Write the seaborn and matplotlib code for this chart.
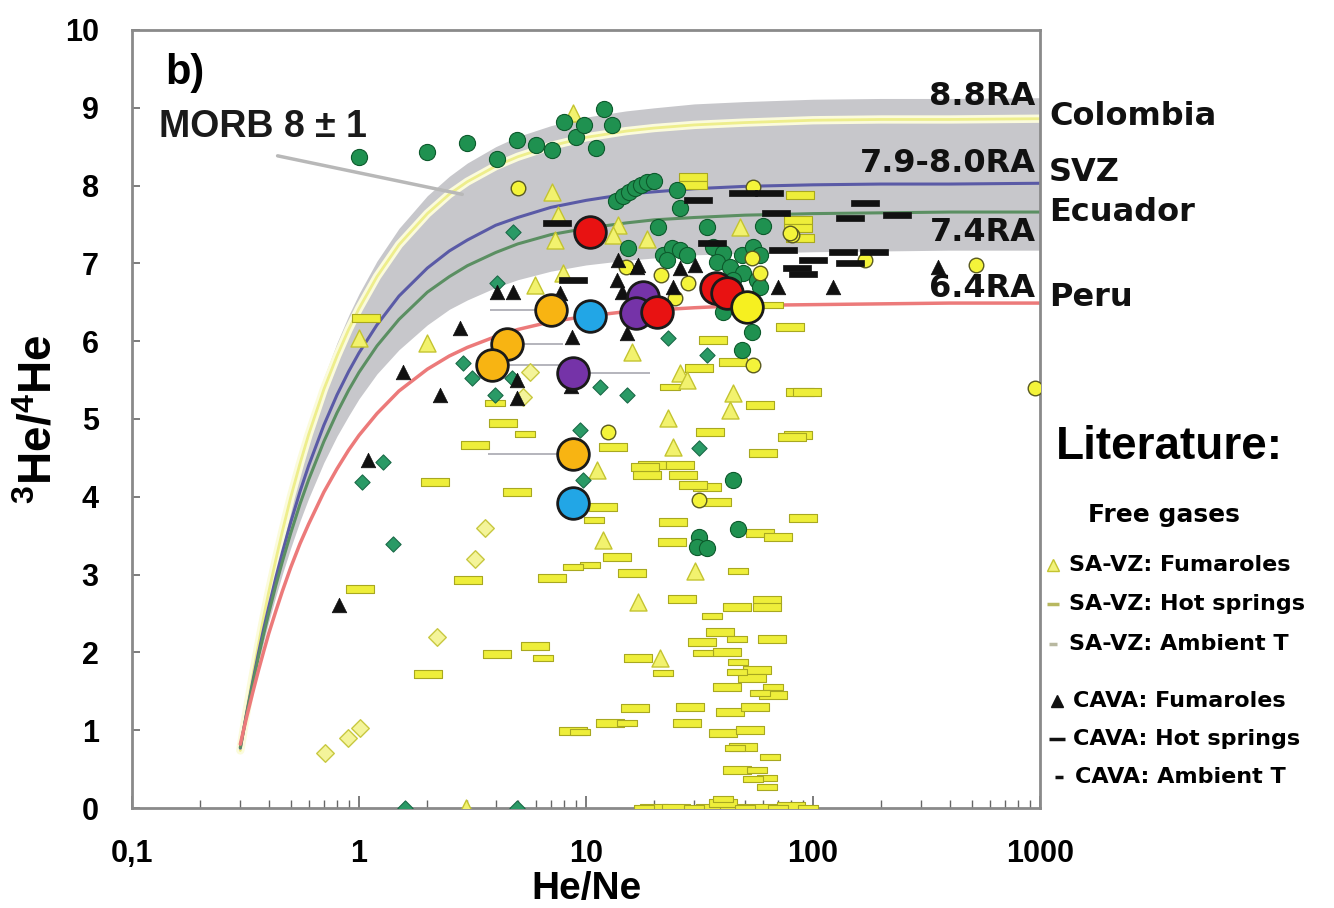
import numpy as np
import matplotlib
matplotlib.use('Agg')
import matplotlib.pyplot as plt
from matplotlib.lines import Line2D
from matplotlib.ticker import LogLocator, NullFormatter
import seaborn as sns

sns.set_theme(style='white')
plt.rcParams['font.family'] = ['Liberation Sans', 'DejaVu Sans']
plt.rcParams['mathtext.fontset'] = 'custom'
plt.rcParams['mathtext.rm'] = 'Liberation Sans:bold'
plt.rcParams['mathtext.bf'] = 'Liberation Sans:bold'
plt.rcParams['mathtext.it'] = 'Liberation Sans:bold'
plt.rcParams['text.color'] = 'black'
plt.rcParams['axes.labelcolor'] = 'black'
plt.rcParams['xtick.color'] = 'black'
plt.rcParams['ytick.color'] = 'black'

# ---- mixing curves ----
curve_x = [0.3, 0.32, 0.34, 0.36, 0.38, 0.4, 0.43, 0.46, 0.5, 0.55, 0.6, 0.7, 0.8, 0.9, 1, 1.2,
           1.5, 2, 2.5, 3, 4, 5, 7, 10, 15, 20, 30, 50, 100, 200, 400, 1000]
colombia = [0.74, 1.25, 1.69, 2.09, 2.45, 2.77, 3.19, 3.56, 3.99, 4.43, 4.80, 5.38, 5.81, 6.15, 6.42, 6.83,
            7.24, 7.64, 7.89, 8.05, 8.25, 8.37, 8.51, 8.62, 8.70, 8.74, 8.78, 8.81, 8.84, 8.85, 8.85, 8.86]
svz = [0.77, 1.22, 1.62, 1.98, 2.30, 2.58, 2.96, 3.29, 3.67, 4.07, 4.40, 4.92, 5.31, 5.61, 5.85, 6.21,
       6.58, 6.94, 7.16, 7.30, 7.49, 7.59, 7.72, 7.81, 7.89, 7.92, 7.96, 7.99, 8.01, 8.02, 8.02, 8.03]
ecuador = [0.78, 1.21, 1.59, 1.93, 2.23, 2.50, 2.86, 3.17, 3.53, 3.91, 4.22, 4.71, 5.08, 5.37, 5.60, 5.94,
           6.28, 6.63, 6.83, 6.97, 7.14, 7.25, 7.37, 7.45, 7.52, 7.56, 7.59, 7.62, 7.64, 7.65, 7.66, 7.66]
peru = [0.82, 1.17, 1.48, 1.76, 2.01, 2.24, 2.53, 2.79, 3.09, 3.40, 3.65, 4.06, 4.36, 4.60, 4.79, 5.07,
        5.36, 5.64, 5.81, 5.92, 6.06, 6.15, 6.25, 6.32, 6.38, 6.40, 6.43, 6.46, 6.47, 6.48, 6.49, 6.49]
morb_high = [0.73, 1.25, 1.72, 2.13, 2.50, 2.83, 3.27, 3.65, 4.09, 4.55, 4.93, 5.53, 5.98, 6.33, 6.61, 7.03,
             7.45, 7.87, 8.12, 8.29, 8.50, 8.63, 8.77, 8.88, 8.96, 9.00, 9.05, 9.08, 9.11, 9.12, 9.12, 9.13]
morb_low = [0.79, 1.19, 1.54, 1.86, 2.14, 2.39, 2.72, 3.01, 3.34, 3.69, 3.98, 4.44, 4.78, 5.04, 5.26, 5.58,
            5.89, 6.21, 6.41, 6.53, 6.69, 6.79, 6.90, 6.98, 7.04, 7.07, 7.11, 7.13, 7.15, 7.16, 7.17, 7.17]

# ---- literature data ----
green_circ_x = [1.0, 2.0, 3.0, 4.05, 4.97, 6.0, 7.1, 8.0, 9.0, 9.8, 11.1, 12.0, 13.0,
                13.5, 14.5, 15.5, 16.5, 17.5, 18.5, 20.0, 25.1, 25.9, 20.7, 34.1, 60.0, 15.3,
                21.8, 23.9, 25.9, 27.8, 22.7, 36.3, 40.1, 37.7, 42.9, 48.5, 54.5, 58.3, 49.0, 56.5, 44.3, 58.3, 40.1,
                53.6, 48.5, 44.3, 46.5, 31.6, 30.9, 34.2]
green_circ_y = [8.37, 8.43, 8.55, 8.34, 8.59, 8.52, 8.46, 8.82, 8.62, 8.78, 8.48, 8.98, 8.78,
                7.80, 7.86, 7.92, 7.97, 8.01, 8.04, 8.06, 7.94, 7.71, 7.47, 7.47, 7.48, 7.20,
                7.11, 7.20, 7.17, 7.11, 7.04, 7.21, 7.13, 7.02, 6.95, 7.11, 7.21, 7.11, 6.88, 6.79, 6.79, 6.70, 6.38,
                6.12, 5.89, 4.22, 3.59, 3.48, 3.35, 3.34]

green_diam_x = [4.77, 4.05, 2.87, 3.15, 3.97, 4.72, 1.28, 1.03, 1.41, 11.5, 15.1, 34.1, 31.6, 22.9, 9.4, 9.7, 1.6, 4.97]
green_diam_y = [7.40, 6.75, 5.72, 5.53, 5.31, 5.53, 4.45, 4.19, 3.39, 5.41, 5.31, 5.82, 4.63, 6.04, 4.86, 4.22, 0.0, 0.0]

savz_fum_x = [8.8, 7.1, 7.55, 7.3, 7.9, 5.96, 1.0, 2.0, 13.8, 13.1, 18.5, 47.6, 15.9, 25.9, 27.8, 44.3,
              42.9, 22.9, 24.2, 11.2, 11.9, 30.1, 16.9, 21.1, 2.97]
savz_fum_y = [8.93, 7.92, 7.62, 7.30, 6.88, 6.72, 6.04, 5.98, 7.49, 7.36, 7.32, 7.47, 5.86, 5.59, 5.50, 5.33,
              5.12, 5.01, 4.64, 4.34, 3.44, 3.04, 2.65, 1.93, 0.0]

savz_hs_x = [1.07, 1.01, 3.02, 7.1, 2.01, 4.05, 5.96, 8.75, 4.31, 3.24, 2.16, 4.97, 79, 36.3, 31.6, 44.3,
             87.8, 58.3, 35, 86, 13.1, 60, 19.5, 25.9, 18.5, 26.7, 34.1, 37.7, 11.9, 24.2, 90.6, 58.3,
             23.9, 69.8, 13.7, 15.9, 26.4, 62.7, 62.7, 46.4, 66.3, 32.4, 38.9, 41.7, 56.5, 16.9, 53.6,
             41.7, 66.6, 16.4, 28.7, 42.9, 55.5, 12.7, 27.8, 40.1, 52.7, 49.1, 46.4, 29.5, 29.5, 87.8,
             86, 86, 87.8, 94, 81, 18.2, 29.5, 20, 25, 35, 45, 60, 80, 40]
savz_hs_y = [6.30, 2.81, 2.93, 2.96, 1.72, 1.98, 2.08, 0.99, 4.95, 4.67, 4.19, 4.06, 6.18, 6.02, 5.66, 5.73,
             5.35, 5.18, 4.83, 4.79, 4.64, 4.56, 4.41, 4.41, 4.28, 4.28, 4.13, 3.93, 3.87, 3.68, 3.73, 3.53,
             3.42, 3.48, 3.23, 3.02, 2.69, 2.67, 2.58, 2.58, 2.17, 2.13, 2.26, 2.01, 1.77, 1.93, 1.67,
             1.56, 1.45, 1.29, 1.30, 1.23, 1.30, 1.09, 1.09, 0.96, 1.00, 0.78, 0.49, 8.11, 8.01, 7.88,
             7.56, 7.46, 7.33, 5.35, 4.77, 4.38, 4.15, 0.0, 0.0, 0.0, 0.0, 0.0, 0.02, 0.06]

savz_amb_x = [5.38, 3.97, 23.4, 10.8, 10.4, 35.9, 46.4, 32.8, 46.5, 46.4, 21.9, 66.6, 58.3, 9.4, 15.1,
              45.4, 64.5, 56.5, 62.7, 62.7, 54.4, 6.46, 8.75, 46.5, 30, 50, 70, 95, 18, 40, 66.6]
savz_amb_y = [4.81, 5.21, 5.41, 3.70, 3.12, 2.47, 2.17, 1.99, 1.88, 1.75, 1.74, 1.56, 1.48, 0.98, 1.09,
              0.77, 0.66, 0.49, 0.38, 0.27, 0.37, 1.93, 3.10, 3.05, 0.0, 0.0, 0.0, 0.0, 0.0, 0.12, 6.47]

yel_circ_x = [5.0, 54.3, 81.0, 53.6, 58.3, 21.5, 28.1, 15.0, 24.7, 170.0, 520.0, 79.0, 54.5, 12.5, 31.6, 950.0]
yel_circ_y = [7.97, 7.98, 7.36, 7.07, 6.88, 6.85, 6.75, 6.95, 6.56, 7.04, 6.98, 7.39, 5.69, 4.83, 3.96, 5.40]

yel_diam_x = [5.66, 5.3, 3.59, 3.24, 2.2, 0.71, 0.89, 1.01]
yel_diam_y = [5.60, 5.28, 3.60, 3.20, 2.20, 0.71, 0.90, 1.03]

cava_fum_x = [2.78, 1.56, 2.27, 1.10, 4.97, 4.97, 8.7, 0.82, 4.77, 4.05, 7.67, 16.7, 13.7, 14.4, 25.9,
              30.1, 24.2, 69.8, 122.0, 15.1, 355.0, 13.8, 16.9, 8.6]
cava_fum_y = [6.17, 5.60, 5.31, 4.47, 5.50, 5.27, 6.06, 2.61, 6.63, 6.63, 6.62, 6.95, 6.79, 6.63, 6.94,
              6.98, 6.70, 6.70, 6.70, 6.11, 6.95, 7.04, 6.98, 5.42]

cava_hs_x = [7.45, 8.75, 31.0, 49.0, 64.0, 169.0, 146.0, 235.0, 69.0, 36.0, 74.0, 135.0, 185.0, 146.0, 85.0, 100.0, 90.0]
cava_hs_y = [7.52, 6.79, 7.81, 7.90, 7.90, 7.78, 7.58, 7.62, 7.65, 7.26, 7.17, 7.15, 7.15, 7.00, 6.94, 7.04, 6.87]

# ---- this study (big symbols) ----
red_x = [10.4, 20.6, 37.5, 42.0]
red_y = [7.40, 6.38, 6.68, 6.62]
orange_x = [7.0, 4.5, 3.85, 8.75]
orange_y = [6.40, 5.96, 5.69, 4.55]
blue_x = [10.4, 8.75]
blue_y = [6.32, 3.92]
purple_x = [17.8, 16.6, 8.75]
purple_y = [6.57, 6.36, 5.59]
yellow_x = [51.0]
yellow_y = [6.44]

# horizontal ranges drawn behind some big symbols
range_y = [6.40, 5.96, 5.69, 5.59, 4.55]
range_x0 = [3.78, 4.5, 3.85, 8.75, 3.7]
range_x1 = [7.0, 7.9, 7.67, 19.1, 8.75]

# ---- drawing ----
fig = plt.figure(figsize=(13.34, 9.08), dpi=100)
ax = fig.add_axes([132 / 1334, 100 / 908, 908 / 1334, 778 / 908])
ax.set_xscale('log')

ax.fill_between(curve_x, morb_low, morb_high, color='#c7c7cb', lw=0, zorder=1)
sns.lineplot(x=curve_x, y=colombia, ax=ax, color='#fbfbdc', lw=6, estimator=None, sort=False, zorder=1.5)
sns.lineplot(x=curve_x, y=colombia, ax=ax, color='#eeee8c', lw=2, estimator=None, sort=False, zorder=2)
sns.lineplot(x=curve_x, y=svz, ax=ax, color='#5a5aa6', lw=2.2, estimator=None, sort=False, zorder=2)
sns.lineplot(x=curve_x, y=ecuador, ax=ax, color='#5b8f62', lw=2.2, estimator=None, sort=False, zorder=2)
sns.lineplot(x=curve_x, y=peru, ax=ax, color='#ec7a7a', lw=2.5, estimator=None, sort=False, zorder=2)

ax.hlines(range_y, range_x0, range_x1, color='#a8a8b0', lw=1.2, zorder=2.5)

rect = [(-1, -0.28), (1, -0.28), (1, 0.28), (-1, 0.28), (-1, -0.28)]
dash = [(-1, -0.2), (1, -0.2), (1, 0.2), (-1, 0.2), (-1, -0.2)]

sns.scatterplot(x=savz_hs_x, y=savz_hs_y, ax=ax, marker=rect, s=380, color='#eeee3a',
                edgecolor='#a8a820', linewidth=0.8, zorder=3)
sns.scatterplot(x=savz_amb_x, y=savz_amb_y, ax=ax, marker=rect, s=190, color='#eeee3a',
                edgecolor='#a8a820', linewidth=0.8, zorder=3)
sns.scatterplot(x=savz_fum_x, y=savz_fum_y, ax=ax, marker='^', s=150, color='#f2f26e',
                edgecolor='#c4c430', linewidth=1, zorder=3.2)
sns.scatterplot(x=yel_diam_x, y=yel_diam_y, ax=ax, marker='D', s=80, color='#f4f49a',
                edgecolor='#c8c840', linewidth=1, zorder=3.2)
sns.scatterplot(x=green_diam_x, y=green_diam_y, ax=ax, marker='D', s=60, color='#2a9a66',
                edgecolor='#1a6a48', linewidth=0.8, zorder=3.4)
sns.scatterplot(x=green_circ_x, y=green_circ_y, ax=ax, marker='o', s=135, color='#1f9150',
                edgecolor='#0d5a2c', linewidth=0.8, zorder=3.5)
sns.scatterplot(x=yel_circ_x, y=yel_circ_y, ax=ax, marker='o', s=110, color='#f4f43a',
                edgecolor='#5a5a20', linewidth=1, zorder=3.6)
sns.scatterplot(x=cava_fum_x, y=cava_fum_y, ax=ax, marker='^', s=110, color='#111111',
                edgecolor='#111111', linewidth=0.5, zorder=3.7)
sns.scatterplot(x=cava_hs_x, y=cava_hs_y, ax=ax, marker=dash, s=380, color='#111111',
                edgecolor='#111111', linewidth=0.5, zorder=3.7)

big = dict(ax=ax, marker='o', s=520, edgecolor='#1a1a1a', linewidth=2, zorder=5)
sns.scatterplot(x=orange_x, y=orange_y, color='#f8b412', **big)
sns.scatterplot(x=blue_x, y=blue_y, color='#22a6e6', **big)
sns.scatterplot(x=purple_x, y=purple_y, color='#7533a8', **big)
sns.scatterplot(x=red_x, y=red_y, color='#e81212', **big)
sns.scatterplot(x=yellow_x, y=yellow_y, color='#f6f020', **big)

# axes and ticks
ax.set_xlim(0.1, 1000)
ax.set_ylim(0, 10)
ax.set_xticks([0.1, 1, 10, 100, 1000])
ax.set_xticklabels(['0,1', '1', '10', '100', '1000'])
ax.xaxis.set_minor_locator(LogLocator(base=10, subs=np.arange(2, 10)))
ax.xaxis.set_minor_formatter(NullFormatter())
ax.set_yticks(range(0, 11))
ax.tick_params(axis='x', which='major', bottom=True, direction='in', length=9, width=1.2,
               color='#666666', labelcolor='black', pad=22, labelsize=22)
ax.tick_params(axis='x', which='minor', bottom=True, direction='in', length=6, width=1, color='#666666')
ax.tick_params(axis='y', left=True, direction='in', length=6, width=1.2, color='#666666',
               labelcolor='black', pad=24, labelsize=22)
for lab in ax.get_xticklabels() + ax.get_yticklabels():
    lab.set_fontweight('bold')
for sp in ax.spines.values():
    sp.set_color('#8a8a8a')
    sp.set_linewidth(2)

ax.set_xlabel('He/Ne', fontsize=28, fontweight='bold', labelpad=2)
ax.set_ylabel(r'$^{3}$He/$^{4}$He', fontsize=33, fontweight='bold', labelpad=2)

# annotations inside
ax.text(0.14, 9.45, 'b)', fontsize=30, fontweight='bold', va='center', ha='left')
ax.text(0.132, 8.75, 'MORB 8 \u00b1 1', fontsize=27, fontweight='bold', va='center', ha='left',
        color='#1a1a1a')
ax.annotate('', xy=(2.93, 7.88), xytext=(0.426, 8.39),
            arrowprops=dict(arrowstyle='-', color='#b8b8b8', lw=2.5))

dv = ['DejaVu Sans']
ytr = ax.get_yaxis_transform()
for txt, yv in [('8.8RA', 9.15), ('7.9-8.0RA', 8.28), ('7.4RA', 7.40), ('6.4RA', 6.68)]:
    ax.text(0.995, yv, txt, transform=ytr, ha='right', va='center', fontsize=23,
            fontweight='bold', family=dv, color='#111111', zorder=6)
for txt, yv in [('Colombia', 8.89), ('SVZ', 8.17), ('Ecuador', 7.65), ('Peru', 6.56)]:
    ax.text(1.01, yv, txt, transform=ytr, ha='left', va='center', fontsize=23,
            fontweight='bold', family=dv, color='#111111', clip_on=False)

# literature key on the right
def fx(px):
    return px / 1334


def fy(py):
    return 1 - py / 908


fig.text(fx(1056), fy(447), 'Literature:', fontsize=33, fontweight='bold', va='center', ha='left')
fig.text(fx(1088), fy(515), 'Free gases', fontsize=18, fontweight='bold', va='center', ha='left', family=dv)
key = [
    (565, 1069, 'SA-VZ: Fumaroles', '^', '#f2f27a', '#c4c430', 9),
    (604, 1069, 'SA-VZ: Hot springs', '_', '#b8b860', '#b8b860', 9),
    (644, 1069, 'SA-VZ: Ambient T', '_', '#b8b8a0', '#b8b8a0', 6),
    (701, 1073, 'CAVA: Fumaroles', '^', '#111111', '#111111', 8),
    (739, 1073, 'CAVA: Hot springs', '_', '#111111', '#111111', 11),
    (777, 1075, 'CAVA: Ambient T', '_', '#111111', '#111111', 6),
]
for py, px, label, mk, fc, ec, ms in key:
    fig.text(fx(px), fy(py), label, fontsize=16, fontweight='bold', va='center', ha='left', family=dv)
    fig.add_artist(Line2D([fx(px - 16)], [fy(py)], marker=mk, markersize=ms, markerfacecolor=fc,
                          markeredgecolor=ec, markeredgewidth=2.5 if mk == '_' else 1,
                          linestyle='none', transform=fig.transFigure))

fig.savefig('out.png', dpi=100)
